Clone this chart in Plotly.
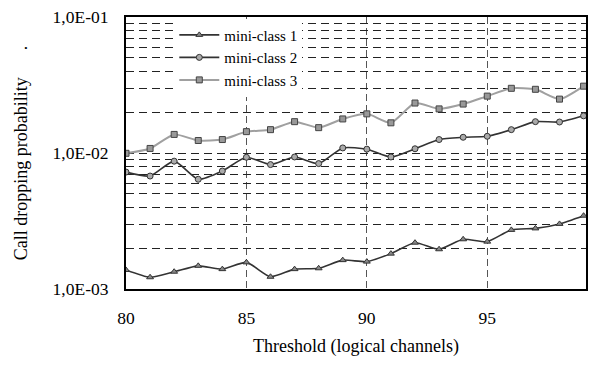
import plotly.graph_objects as go

thresholds = list(range(80, 100))
mini_class_1 = [0.00138, 0.00122, 0.00134, 0.00148, 0.00140, 0.00157, 0.00123, 0.00140,
                0.00142, 0.00163, 0.00159, 0.00182, 0.00219, 0.00196, 0.00232, 0.00223,
                0.00272, 0.00279, 0.00301, 0.00346]
mini_class_2 = [0.00724, 0.00677, 0.00871, 0.00641, 0.00737, 0.00930, 0.00822, 0.00935,
                0.00836, 0.0109, 0.01067, 0.00935, 0.01074, 0.01256, 0.01305, 0.01327,
                0.01485, 0.0170, 0.0169, 0.01876]
mini_class_3 = [0.00995, 0.0108, 0.0137, 0.01236, 0.01256, 0.01436, 0.01485, 0.0170,
                0.01536, 0.0178, 0.0194, 0.01667, 0.0233, 0.0211, 0.0229, 0.0262,
                0.0299, 0.0294, 0.0249, 0.031]

y_tickvals = [m * 10 ** e for e in (-3, -2) for m in range(1, 10)] + [0.1]
y_ticktext = ["1,0E-03" if v == 0.001 else "1,0E-02" if v == 0.01 else "1,0E-01" if v == 0.1 else ""
              for v in y_tickvals]
x_tickvals = [80, 85, 90, 95]

FONT = "Times New Roman, Liberation Serif, serif"

fig = go.Figure()
fig.add_trace(go.Scatter(
    x=thresholds, y=mini_class_1, name="mini-class 1", mode="lines+markers",
    line=dict(color="#333333", width=1.6, shape="spline", smoothing=0.6),
    marker=dict(symbol="triangle-up", size=6, color="#888888", line=dict(color="#333333", width=1))))
fig.add_trace(go.Scatter(
    x=thresholds, y=mini_class_2, name="mini-class 2", mode="lines+markers",
    line=dict(color="#333333", width=1.6, shape="spline", smoothing=0.6),
    marker=dict(symbol="circle", size=6, color="#aaaaaa", line=dict(color="#333333", width=1))))
fig.add_trace(go.Scatter(
    x=thresholds, y=mini_class_3, name="mini-class 3", mode="lines+markers",
    line=dict(color="#a0a0a0", width=2, shape="spline", smoothing=0.6),
    marker=dict(symbol="square", size=6, color="#999999", line=dict(color="#444444", width=1))))

fig.update_layout(
    width=595, height=376,
    margin=dict(l=126, r=7, t=13, b=87),
    paper_bgcolor="white", plot_bgcolor="white",
    font=dict(family=FONT, size=17, color="black"),
    showlegend=True,
    legend=dict(x=0.105, y=0.994, xanchor="left", yanchor="top",
                bgcolor="white", borderwidth=0, font=dict(size=15, family=FONT),
                itemwidth=40, tracegroupgap=0),
)
fig.update_xaxes(
    range=[80, 99.1], tickvals=x_tickvals, ticks="", ticklabelstandoff=12,
    showgrid=True, gridcolor="#555555", griddash="7px,4px", gridwidth=1,
    showline=True, linecolor="black", linewidth=2, mirror=True, zeroline=False,
    title=dict(text="Threshold (logical channels)", standoff=12, font=dict(size=18, family=FONT)),
    tickfont=dict(size=17.5, family=FONT),
)
fig.update_yaxes(
    type="log", range=[-3, -1], tickvals=y_tickvals, ticktext=y_ticktext, ticks="",
    ticklabelstandoff=12,
    showgrid=True, gridcolor="#222222", griddash="8px,5px", gridwidth=1,
    showline=True, linecolor="black", linewidth=2, mirror=True, zeroline=False,
    title=dict(text="Call dropping probability      .", standoff=20, font=dict(size=18, family=FONT)),
    tickfont=dict(size=17.5, family=FONT),
)

fig.write_html("out.html")
